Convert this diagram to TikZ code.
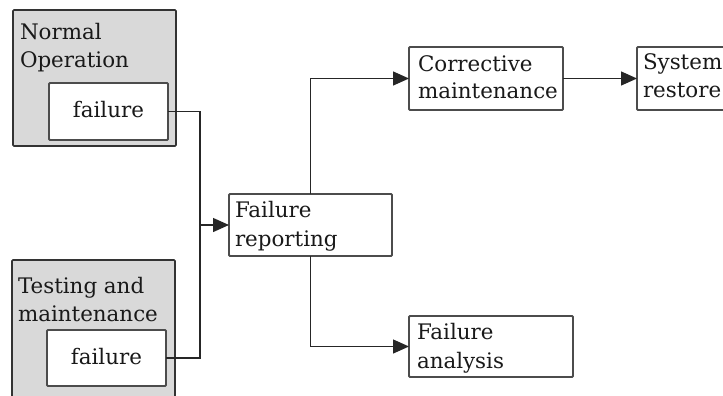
\documentclass[tikz,border=0pt]{standalone}
\usepackage{fontspec}
\setmainfont{DejaVu Serif}
\usetikzlibrary{arrows.meta}
\begin{document}
\begin{tikzpicture}[x=1pt,y=-1pt,
  every node/.style={inner sep=0pt,outer sep=0pt},
  grp/.style={draw=black!80,line width=1.6pt,fill=black!15,rounded corners=1pt},
  box/.style={draw=black!70,line width=1.8pt,fill=white,rounded corners=1pt},
  txt/.style={font=\fontsize{21.4}{28}\selectfont,text=black!90},
  lbl/.style={txt,anchor=base west},
  conn/.style={draw=black!85,line width=1.3pt},
  arr/.style={conn,-{Triangle[length=16pt,width=14pt]}}]
\useasboundingbox (0,0) rectangle (723,396);
\clip (0,0) rectangle (723,396);
\fill[white] (0,0) rectangle (723,396);

% operating modes (grey groups) with their failure boxes
\node[grp,minimum width=163pt,minimum height=136pt] (no) at (94.5,78) {};
\node[lbl] (not) at (20,40) {Normal};
\node[lbl] (not2) at (20,68) {Operation};
\node[box,minimum width=119pt,minimum height=57pt] (nf) at (108.5,111.5) {};
\node[txt] (nft) at (108.5,110) {failure};

\node[grp,minimum width=163pt,minimum height=150pt] (tm) at (93.5,335) {};
\node[lbl] (tmt) at (18,293) {Testing and};
\node[lbl] (tmt2) at (18,321) {maintenance};
\node[box,minimum width=119pt,minimum height=56pt] (tf) at (106.5,358) {};
\node[txt] (tft) at (106.5,356.5) {failure};

% process steps
\node[box,minimum width=163pt,minimum height=62pt] (fr) at (310.5,225) {};
\node[lbl] (frt) at (235,217) {Failure};
\node[lbl] (frt2) at (235,246) {reporting};

\node[box,minimum width=154pt,minimum height=63pt] (cm) at (486,78.5) {};
\node[lbl] (cmt) at (418,71) {Corrective};
\node[lbl] (cmt2) at (418,99) {maintenance};

\node[box,minimum width=164pt,minimum height=61pt] (fa) at (491,346.5) {};
\node[lbl] (fat) at (417,339) {Failure};
\node[lbl] (fat2) at (417,368) {analysis};

\node[box,minimum width=120pt,minimum height=63pt] (sr) at (697,78.5) {};
\node[lbl] (srt) at (643,70) {System};
\node[lbl] (srt2) at (643,98) {restore};

% connectors
\coordinate (j) at (200,225);
\path[conn] (nf.east) -| (j);
\path[conn] (tf.east) -| (j);
\path[arr] (j) -- (fr.west);
\path[arr] (fr.north) |- (cm.west);
\path[arr] (fr.south) |- (fa.west);
\path[arr] (cm.east) -- (sr.west);
\end{tikzpicture}
\end{document}
